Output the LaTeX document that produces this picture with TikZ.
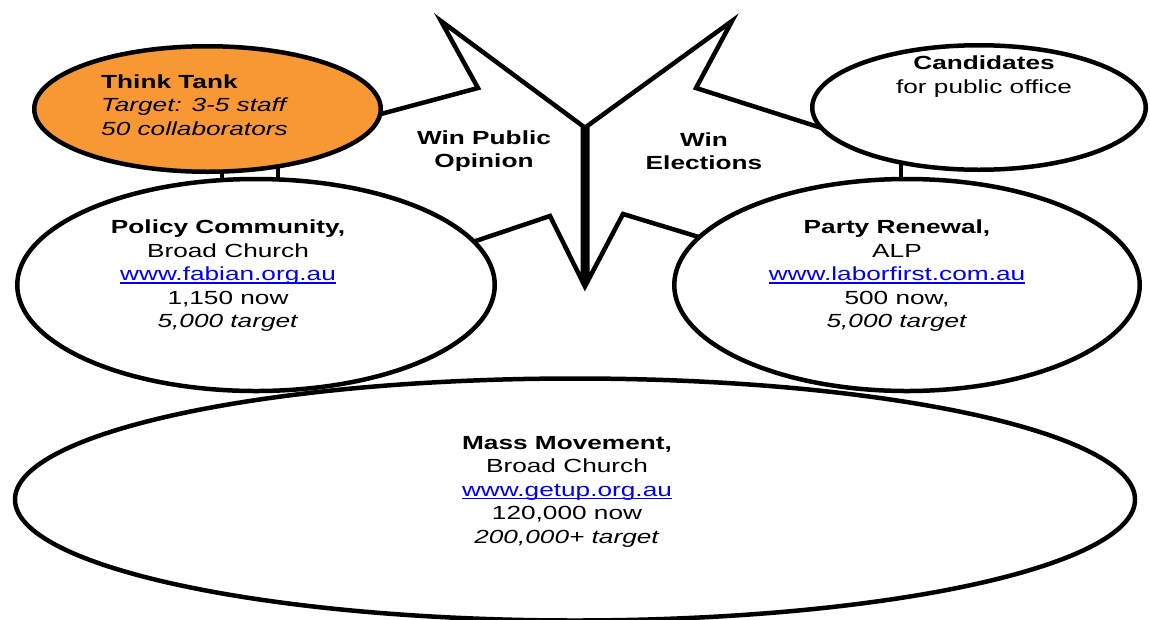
\documentclass[tikz,border=0pt]{standalone}
\usepackage{fontspec}
\setmainfont{Liberation Sans}[FakeStretch=1.38]
\usetikzlibrary{shapes.geometric}
\definecolor{tankorange}{RGB}{247,152,52}
\definecolor{urlblue}{RGB}{0,0,255}
\newcommand{\weblink}[1]{{\color{urlblue}\setbox0\hbox{#1}\rlap{\rule[-2.6pt]{\wd0}{1.1pt}}\box0}}
\begin{document}
\begin{tikzpicture}[x=1pt,y=-1pt,
  bubble/.style={ellipse, draw=black, line width=4.5pt, inner sep=0pt, fill=white},
  txt/.style={font=\fontsize{19}{23.5}\selectfont, align=center, inner sep=0pt},
  spike/.style={draw=black, line width=4.5pt, line join=miter, miter limit=20, line cap=butt}]
\useasboundingbox (0,0) rectangle (1150,619);
\fill[white] (0,0) rectangle (1150,619);

% the two arrow shapes (left: Win Public Opinion, right: Win Elections)
\draw[spike] (351,122) -- (478,88) -- (441,21) -- (582.75,126) -- (582.75,282) -- (550,216) -- (440,253);
\draw[spike] (850,137) -- (696,88) -- (732,21) -- (587.25,126) -- (587.25,282) -- (623,214) -- (735,248);

% small joins between bubbles
\draw[line width=4.5pt] (222,168) -- (222,180);
\draw[line width=4.5pt] (278,168) -- (278,180);
\draw[line width=4.5pt] (901,162) -- (901,180);

% bubbles
\node[bubble, fill=tankorange, minimum width=346.5pt, minimum height=125.5pt] (tank) at (207.5,109) {};
\node[bubble, minimum width=333.5pt, minimum height=124.5pt] (cand) at (979,107.5) {};
\node[bubble, minimum width=477.5pt, minimum height=212pt] (policy) at (256,285) {};
\node[bubble, minimum width=465.5pt, minimum height=212pt] (party) at (907,285) {};
\node[bubble, fill=none, minimum width=1120pt, minimum height=242pt] (mass) at (575,499.5) {};

% texts
\node[txt, align=left, anchor=west] (tanktext) at (101,105)
  {\textbf{Think Tank}\\\textit{Target: 3-5 staff}\\\textit{50 collaborators}};
\node[txt] (candtext) at (984,76.5) {\textbf{Candidates}\\for public office};
\node[txt] (opinion) at (484,151) {\textbf{Win Public}\\\textbf{Opinion}};
\node[txt] (elections) at (704,151) {\textbf{Win}\\\textbf{Elections}};
\node[txt] (policytext) at (228,276)
  {\textbf{Policy Community,}\\Broad Church\\\weblink{www.fabian.org.au}\\1,150 now\\\textit{5,000 target}};
\node[txt] (partytext) at (897,276)
  {\textbf{Party Renewal,}\\ALP\\\weblink{www.laborfirst.com.au}\\500 now,\\\textit{5,000 target}};
\node[txt] (masstext) at (567,491.5)
  {\textbf{Mass Movement,}\\Broad Church\\\weblink{www.getup.org.au}\\120,000 now\\\textit{200,000+ target}};
\end{tikzpicture}
\end{document}
